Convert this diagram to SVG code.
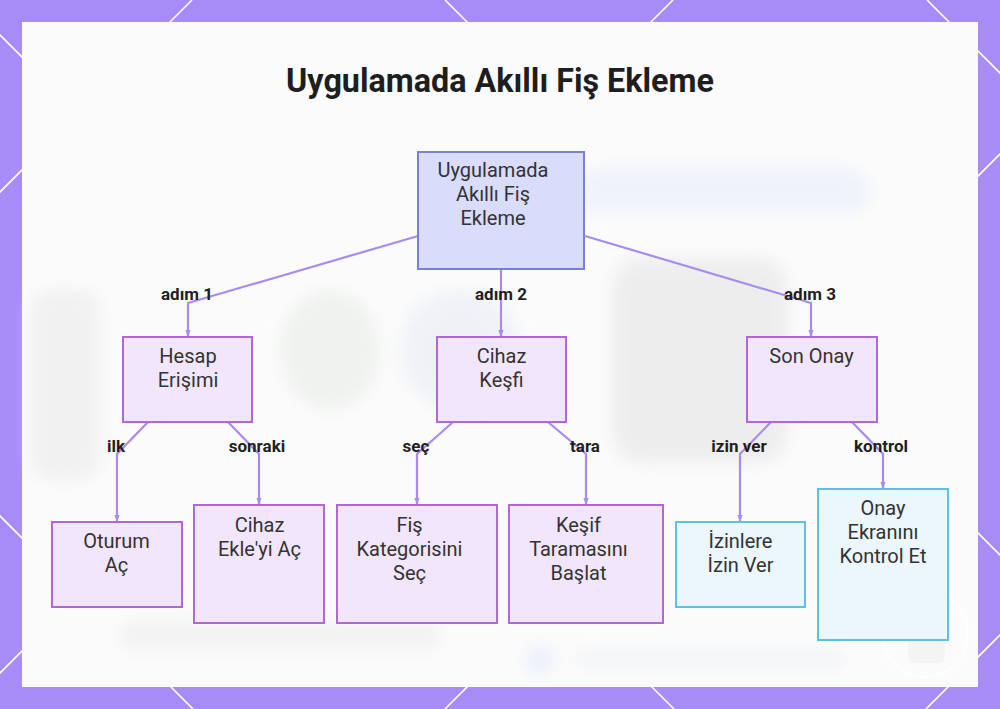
<svg xmlns="http://www.w3.org/2000/svg" width="1000" height="709" viewBox="0 0 1000 709">
<defs>
<style>
.lat{stroke:#ffffff;stroke-width:1.6;fill:none}
.title{font-family:Roboto,"Liberation Sans",sans-serif;font-weight:700;font-size:32.3px;fill:#1e1e1e;text-anchor:middle}
.nt{font-family:Roboto,"Liberation Sans",sans-serif;font-size:20px;fill:#333333;text-anchor:middle}
.lbl{font-family:Roboto,"Liberation Sans",sans-serif;font-weight:700;font-size:17px;fill:#1f1f1f;text-anchor:middle}
.root{fill:#d9dcfb;stroke:#7a80d2;stroke-width:2}
.pn{fill:#f2e6fd;stroke:#b068d8;stroke-width:2}
.cn{fill:#ebf6fd;stroke:#5cc2e2;stroke-width:2}
.edge{fill:none;stroke:#a98bf0;stroke-width:2.2}
</style>
<marker id="ah" viewBox="0 0 10 10" refX="9" refY="5" markerWidth="3" markerHeight="3" orient="auto">
<path d="M0,1 L10,5 L0,9 z" fill="#a98bf0"/>
</marker>
<filter id="blur" x="-20%" y="-20%" width="140%" height="140%"><feGaussianBlur stdDeviation="8"/></filter>
</defs>
<rect x="0" y="0" width="1000" height="709" fill="#a78bf7"/>
<g id="lattice">
<line class="lat" x1="192" y1="0" x2="-10" y2="202"/>
<line class="lat" x1="673" y1="0" x2="-36" y2="709"/>
<line class="lat" x1="1010" y1="144" x2="445" y2="709"/>
<line class="lat" x1="1010" y1="625" x2="926" y2="709"/>
<line class="lat" x1="-10" y1="25" x2="674" y2="709"/>
<line class="lat" x1="445" y1="0" x2="1010" y2="565"/>
<line class="lat" x1="927" y1="0" x2="1010" y2="83"/>
<line class="lat" x1="-10" y1="506" x2="193" y2="709"/>
</g>
<rect x="22" y="22" width="956" height="665" fill="#fbfbfb"/>
<g id="backdrop" filter="url(#blur)" opacity="0.9">
<rect x="612" y="258" width="176" height="205" rx="30" fill="#ececec"/>
<rect x="575" y="168" width="295" height="45" rx="22" fill="#eef2fb"/>
<rect x="30" y="290" width="70" height="190" rx="20" fill="#f0f0f0"/>
<rect x="120" y="620" width="320" height="30" rx="10" fill="#f2f2f2"/>
<ellipse cx="460" cy="350" rx="60" ry="60" fill="#eef1f6"/>
<ellipse cx="330" cy="350" rx="50" ry="60" fill="#eef1ee"/>
<circle cx="540" cy="660" r="14" fill="#e8eefb"/>
<rect x="575" y="652" width="270" height="14" rx="6" fill="#f0f2f6"/>
</g>
<circle cx="925" cy="634" r="43" fill="none" stroke="#ffffff" stroke-width="1.5" opacity="0.8"/>
<rect x="908" y="619" width="37" height="44" rx="8" fill="#f4f4f4"/>
<text class="title" x="500" y="92">Uygulamada Akıllı Fiş Ekleme</text>
<g id="connectors">
<path class="edge" d="M418,236 L188,303 L188,336" marker-end="url(#ah)"/>
<path class="edge" d="M501,269 L501,336" marker-end="url(#ah)"/>
<path class="edge" d="M585,236 L811,303 L811,336" marker-end="url(#ah)"/>
<path class="edge" d="M148,422 L117,454 L117,521" marker-end="url(#ah)"/>
<path class="edge" d="M228,422 L259,454 L259,504" marker-end="url(#ah)"/>
<path class="edge" d="M453,422 L417,454 L417,504" marker-end="url(#ah)"/>
<path class="edge" d="M548,422 L586,454 L586,504" marker-end="url(#ah)"/>
<path class="edge" d="M771,422 L740,454 L740,521" marker-end="url(#ah)"/>
<path class="edge" d="M852,422 L883,454 L883,488" marker-end="url(#ah)"/>
<text class="lbl" x="187" y="300">adım 1</text>
<text class="lbl" x="501" y="300">adım 2</text>
<text class="lbl" x="810" y="300">adım 3</text>
<text class="lbl" x="116" y="452">ilk</text>
<text class="lbl" x="257" y="452">sonraki</text>
<text class="lbl" x="416" y="452">seç</text>
<text class="lbl" x="585" y="452">tara</text>
<text class="lbl" x="739" y="452">izin ver</text>
<text class="lbl" x="881" y="452">kontrol</text>
</g>
<g id="root">
<rect class="root" x="418" y="152" width="166" height="117"/>
<text class="nt" x="493" y="177">Uygulamada</text>
<text class="nt" x="493" y="201">Akıllı Fiş</text>
<text class="nt" x="493" y="225">Ekleme</text>
</g>
<g id="hesap">
<rect class="pn" x="123" y="337" width="129" height="85"/>
<text class="nt" x="188" y="363">Hesap</text>
<text class="nt" x="188" y="387">Erişimi</text>
</g>
<g id="cihazkesfi">
<rect class="pn" x="437" y="337" width="129" height="85"/>
<text class="nt" x="501.5" y="363">Cihaz</text>
<text class="nt" x="501.5" y="387">Keşfi</text>
</g>
<g id="sononay">
<rect class="pn" x="747" y="337" width="130" height="85"/>
<text class="nt" x="811.5" y="363">Son Onay</text>
</g>
<g id="oturum">
<rect class="pn" x="52" y="522" width="130" height="85"/>
<text class="nt" x="116.5" y="548">Oturum</text>
<text class="nt" x="116.5" y="572">Aç</text>
</g>
<g id="cihazekle">
<rect class="pn" x="194" y="505" width="130" height="118"/>
<text class="nt" x="259.5" y="532">Cihaz</text>
<text class="nt" x="259.5" y="556">Ekle'yi Aç</text>
</g>
<g id="fiskategori">
<rect class="pn" x="337" y="505" width="160" height="118"/>
<text class="nt" x="409.5" y="532">Fiş</text>
<text class="nt" x="409.5" y="556">Kategorisini</text>
<text class="nt" x="409.5" y="580">Seç</text>
</g>
<g id="kesif">
<rect class="pn" x="509" y="505" width="154" height="118"/>
<text class="nt" x="578.5" y="532">Keşif</text>
<text class="nt" x="578.5" y="556">Taramasını</text>
<text class="nt" x="578.5" y="580">Başlat</text>
</g>
<g id="izinler">
<rect class="cn" x="676" y="522" width="129" height="85"/>
<text class="nt" x="740.5" y="548">İzinlere</text>
<text class="nt" x="740.5" y="572">İzin Ver</text>
</g>
<g id="onayekrani">
<rect class="cn" x="818" y="489" width="130" height="151"/>
<text class="nt" x="883" y="515">Onay</text>
<text class="nt" x="883" y="539">Ekranını</text>
<text class="nt" x="883" y="563">Kontrol Et</text>
</g>
</svg>
